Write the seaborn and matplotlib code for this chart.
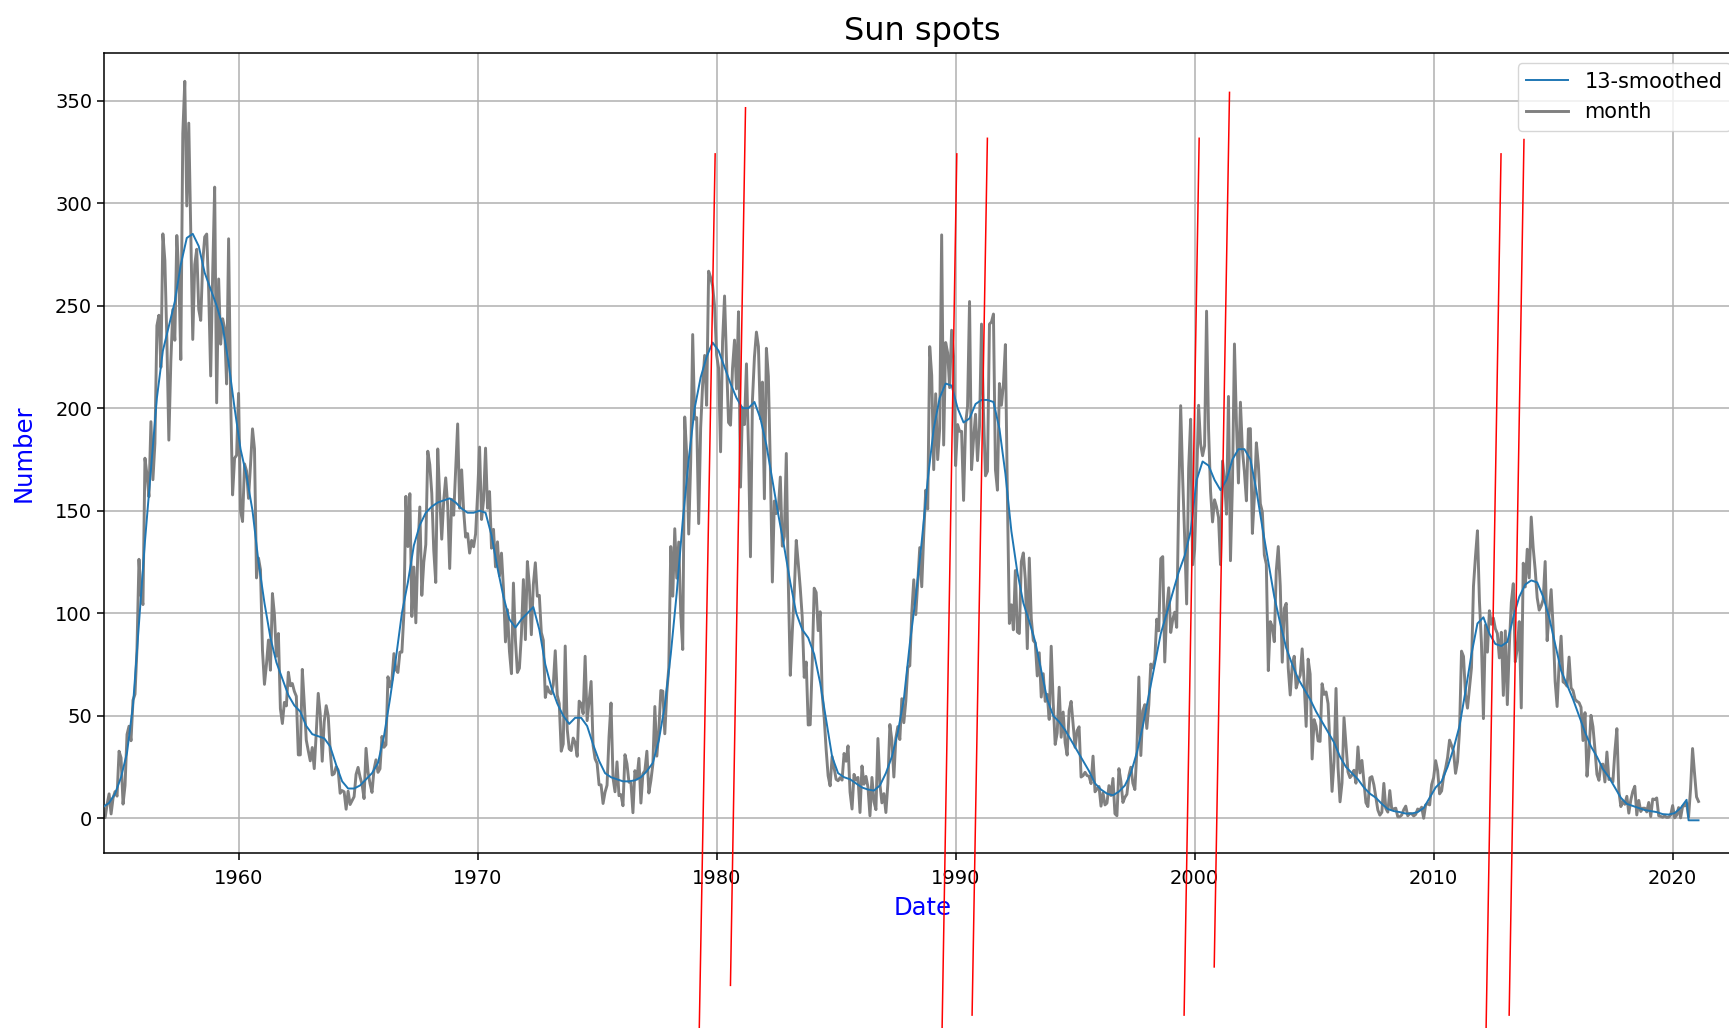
import numpy as np
import pandas as pd
import seaborn as sns
import matplotlib
matplotlib.use("Agg")
import matplotlib.pyplot as plt
from matplotlib.ticker import MultipleLocator

# monthly sunspot number, first month 1954-05, one value per month
month_start = "1954-05-01"
month_sn = [
    1.1, 0.3, 6.8, 11.9, 2.1, 9.9, 13.0, 10.8,
    32.7, 29.5, 6.9, 16.0, 40.9, 44.9, 37.8, 57.6, 60.5, 82.8, 126.3, 108.9,
    104.2, 175.6, 167.7, 156.8, 193.4, 165.1, 182.8, 240.2, 245.3, 219.9, 285.0, 272.0,
    233.6, 184.4, 222.9, 248.1, 233.1, 284.2, 265.1, 223.7, 333.9, 359.4, 298.6, 339.0,
    286.7, 233.5, 270.0, 277.5, 248.2, 242.8, 271.0, 283.5, 284.9, 257.0, 215.7, 265.6,
    307.8, 202.6, 263.0, 231.2, 243.6, 238.9, 211.8, 282.6, 205.6, 157.7, 175.6, 177.0,
    207.2, 150.1, 144.7, 172.8, 169.4, 156.0, 172.3, 189.9, 180.1, 117.2, 126.9, 121.2,
    82.0, 65.3, 75.0, 86.9, 72.2, 109.6, 99.4, 79.0, 90.1, 53.4, 46.2, 56.5,
    54.8, 71.2, 64.6, 65.7, 61.9, 59.5, 30.9, 30.9, 72.6, 55.9, 38.1, 32.9,
    28.0, 34.5, 24.2, 41.5, 60.9, 50.8, 27.8, 47.0, 54.9, 50.0, 33.1, 21.1,
    21.7, 25.1, 23.4, 12.2, 13.5, 12.9, 4.4, 13.2, 6.7, 8.6, 10.5, 21.4,
    24.8, 20.1, 16.6, 9.6, 34.1, 22.5, 16.9, 12.6, 23.8, 28.5, 22.4, 24.1,
    39.9, 34.6, 35.8, 69.0, 64.1, 67.5, 80.3, 72.5, 71.1, 81.0, 81.0, 99.7,
    157.0, 132.5, 158.3, 98.4, 122.5, 95.3, 129.6, 151.8, 108.7, 124.9, 133.5, 179.0,
    172.5, 158.5, 130.6, 115.0, 180.1, 156.2, 136.1, 154.8, 166.0, 152.5, 121.8, 155.5,
    147.8, 170.6, 192.3, 151.2, 169.9, 150.1, 137.1, 138.8, 129.3, 135.5, 132.4, 138.6,
    157.9, 181.0, 145.7, 155.1, 180.5, 151.2, 159.3, 131.7, 140.9, 122.6, 134.8, 118.2,
    129.3, 111.9, 86.0, 101.7, 81.4, 70.5, 114.7, 86.9, 71.1, 73.2, 89.5, 116.4,
    87.1, 125.2, 113.4, 89.5, 114.0, 124.6, 108.3, 108.7, 90.6, 86.8, 58.9, 64.1,
    61.5, 60.7, 65.1, 81.7, 60.0, 55.9, 32.7, 36.2, 84.0, 43.5, 33.8, 33.0,
    39.1, 36.8, 30.2, 57.1, 55.9, 51.0, 79.0, 47.6, 56.9, 66.7, 35.4, 29.0,
    26.8, 16.3, 16.3, 7.2, 12.7, 16.1, 39.9, 56.2, 19.7, 12.9, 27.5, 11.0,
    11.5, 6.1, 31.0, 26.6, 17.6, 17.3, 2.7, 23.2, 19.1, 29.2, 7.4, 21.7,
    23.2, 32.7, 12.3, 18.3, 26.3, 54.5, 30.3, 42.6, 62.3, 62.0, 41.2, 61.2,
    73.5, 132.5, 108.3, 141.2, 117.1, 134.7, 99.7, 82.3, 195.7, 177.1, 138.6, 173.7,
    235.9, 194.7, 195.4, 143.7, 190.3, 211.7, 225.7, 201.4, 266.8, 263.7, 259.6, 249.6,
    226.0, 219.5, 178.7, 232.4, 254.7, 222.7, 193.0, 191.7, 219.5, 233.2, 209.4, 247.0,
    161.5, 200.2, 192.0, 221.6, 180.7, 127.5, 203.8, 224.9, 237.1, 230.1, 194.8, 212.7,
    155.8, 229.2, 215.5, 170.9, 115.2, 154.7, 148.6, 150.7, 166.4, 132.7, 137.4, 177.9,
    115.2, 69.7, 90.8, 110.2, 135.5, 124.4, 112.3, 98.1, 68.7, 76.2, 45.5, 45.6,
    75.1, 112.2, 110.1, 91.5, 100.7, 60.8, 49.3, 33.6, 20.7, 15.8, 30.1, 24.6,
    19.0, 18.3, 19.8, 18.6, 31.6, 27.8, 35.3, 12.8, 4.5, 21.4, 18.6, 19.9,
    2.8, 25.5, 16.6, 20.4, 15.1, 1.2, 19.9, 8.1, 4.2, 38.9, 16.7, 7.5,
    12.0, 2.8, 16.9, 45.7, 38.0, 20.1, 39.1, 44.7, 38.4, 58.3, 46.6, 57.1,
    73.6, 74.4, 100.2, 116.3, 99.3, 115.1, 132.0, 112.9, 138.3, 160.0, 150.8, 230.0,
    216.0, 170.0, 207.0, 174.9, 190.0, 284.5, 182.0, 232.0, 227.0, 210.0, 238.0, 225.0,
    172.0, 192.0, 188.7, 188.7, 155.0, 192.0, 200.9, 252.0, 170.0, 185.0, 197.0, 174.4,
    191.0, 241.0, 198.0, 167.0, 169.2, 241.0, 242.0, 245.9, 170.0, 160.0, 212.0, 201.4,
    211.5, 231.0, 157.0, 95.0, 104.1, 91.9, 120.8, 90.9, 90.1, 125.1, 129.4, 116.5,
    82.7, 126.9, 97.3, 86.7, 85.5, 69.4, 80.7, 59.1, 70.5, 57.0, 60.4, 48.2,
    83.9, 56.4, 36.0, 41.6, 63.9, 39.5, 51.8, 36.8, 30.8, 52.5, 57.0, 45.9,
    34.6, 42.7, 44.6, 20.1, 20.8, 22.4, 20.8, 20.5, 16.9, 30.3, 12.9, 14.3,
    15.5, 5.9, 12.4, 6.5, 7.4, 15.9, 11.1, 19.4, 2.2, 1.2, 24.2, 18.0,
    7.7, 10.2, 11.7, 20.8, 24.9, 17.1, 14.0, 32.8, 68.9, 30.6, 52.4, 55.4,
    43.8, 55.3, 75.2, 73.3, 77.3, 97.1, 91.4, 126.6, 127.6, 76.2, 101.6, 112.4,
    90.6, 96.9, 100.5, 93.1, 155.5, 201.2, 165.8, 136.9, 104.5, 170.5, 194.6, 123.6,
    131.0, 164.2, 201.4, 182.5, 176.8, 181.6, 247.3, 189.7, 159.5, 144.5, 155.3, 151.8,
    146.7, 123.7, 174.2, 165.3, 148.3, 205.7, 125.6, 163.3, 231.3, 192.6, 163.5, 202.9,
    179.5, 168.9, 154.8, 189.9, 190.0, 138.9, 156.7, 183.1, 172.4, 153.4, 149.4, 128.4,
    123.9, 72.0, 95.9, 93.5, 86.1, 120.7, 132.5, 113.3, 76.1, 102.3, 104.8, 73.3,
    60.1, 74.3, 79.0, 63.5, 67.1, 69.8, 82.6, 66.1, 44.8, 77.6, 70.3, 28.9,
    48.1, 44.9, 37.7, 37.5, 65.6, 60.4, 61.6, 55.9, 34.0, 13.1, 27.7, 63.3,
    24.9, 8.0, 17.2, 49.1, 36.2, 22.6, 19.8, 21.0, 23.4, 17.1, 34.8, 22.1,
    28.2, 18.0, 7.6, 5.7, 19.7, 20.3, 16.3, 10.1, 4.0, 1.5, 2.9, 17.0,
    4.8, 3.0, 13.5, 4.2, 4.6, 4.9, 0.7, 0.7, 1.6, 4.2, 5.9, 1.2,
    2.3, 2.2, 1.1, 1.9, 4.5, 4.0, 5.4, 0.0, 6.5, 7.1, 6.5, 16.4,
    19.8, 28.1, 23.3, 11.9, 13.3, 20.4, 24.3, 29.6, 38.1, 35.5, 32.6, 21.9,
    27.6, 42.6, 81.5, 78.9, 60.3, 53.7, 63.5, 73.4, 113.1, 127.6, 140.2, 105.9,
    85.5, 48.6, 94.2, 81.0, 101.2, 94.6, 97.6, 92.4, 90.1, 78.2, 90.7, 59.9,
    91.4, 55.4, 84.1, 105.2, 114.4, 76.3, 82.8, 95.9, 53.8, 124.4, 112.8, 131.2,
    117.2, 146.9, 131.8, 121.0, 107.5, 101.5, 103.5, 106.6, 125.2, 86.6, 100.2, 111.5,
    93.0, 66.7, 54.5, 75.3, 88.8, 66.5, 65.8, 64.4, 78.6, 63.6, 62.2, 58.0,
    57.0, 56.4, 54.1, 37.9, 51.5, 20.5, 32.4, 50.2, 44.6, 33.4, 21.4, 18.5,
    26.1, 26.4, 17.7, 32.3, 18.9, 19.2, 17.8, 32.6, 43.7, 13.2, 5.7, 8.2,
    6.8, 10.7, 2.5, 8.9, 13.1, 15.6, 1.6, 8.7, 3.3, 4.9, 4.9, 3.1,
    7.7, 0.8, 9.4, 9.1, 9.9, 1.2, 0.9, 0.5, 1.1, 0.4, 0.5, 1.5,
    6.2, 0.2, 1.5, 5.2, 0.2, 5.8, 6.1, 7.5, 0.6, 14.4, 34.0, 21.8,
    10.4, 8.2,
]

# 13-month smoothed number, read every 3 months from 1954-05 to 2020-08
smooth_start = "1954-05-01"
smooth_sn = [
    5.5, 7.5, 12,
    20, 32, 55, 95,   135, 170, 205, 228,   240, 252, 270, 283,   285, 279, 266, 258,
    250, 240, 222, 200,   180, 167, 150, 125,   105, 88, 76, 68,   60, 55, 52, 45,
    41, 40, 39, 35,   26, 18, 14.5, 14.5,   16, 19, 22, 27,   40, 58, 78, 100,
    115, 133, 143, 149,   152, 154, 155, 156,   154, 151, 149, 149,   150, 149, 138, 122,
    108, 97, 93, 97,   100, 103, 92, 75,   64, 56, 50, 46,   49, 49, 45, 36,
    28, 22, 20, 19,   18, 18, 18.5, 20,   23, 27, 38, 55,   80, 110, 145, 175,
    200, 215, 225, 232,   228, 220, 212, 205,   200, 200, 203, 195,   182, 165, 148, 132,
    115, 100, 92, 88,   80, 66, 48, 30,   22, 20, 19, 17,   15, 14, 13.5, 16,
    22, 30, 42, 58,   85, 108, 135, 165,   190, 205, 212, 211,   200, 193, 195, 202,
    204, 204, 203, 190,   168, 140, 120, 105,   96, 86, 72, 58,   50, 47, 43, 38,
    33, 28, 23, 17,   14, 12, 11.2, 13,   16, 22, 32, 45,   60, 75, 90, 100,
    110, 120, 128, 140,   165, 174, 172, 165,   160, 165, 175, 180,   180, 175, 160, 142,
    125, 108, 95, 83,   75, 68, 63, 58,   52, 47, 42, 37,   30, 25, 22, 19,
    15, 12, 10, 7,   4.5, 3.5, 3, 2.3,   2.3, 3, 5, 10,   15, 18, 25, 34,
    45, 62, 80, 95,   98, 90, 85, 84,   86, 98, 108, 114,   116, 115, 108, 98,
    85, 72, 65, 58,   50, 42, 35, 30,   24, 20, 15, 10,   7, 6, 5, 4,
    3.5, 3, 2, 1.8,   2.5, 5, 9,
]
# last six smoothed months (2020-09 .. 2021-02) are stored as -1 in the source
tail_start = "2020-09-01"
smooth_tail = [-1, -1, -1, -1, -1, -1]

# hand-drawn red marks: (year, value) at top and bottom end
red_top_x = [1979.94, 1981.21, 1990.05, 1991.33, 2000.19, 2001.46, 2012.82, 2013.78]
red_top_y = [324, 346.5, 324, 331.6, 331.6, 354, 324, 331]
red_bot_x = [1979.27, 1980.58, 1989.43, 1990.69, 1999.56, 2000.82, 2012.19, 2013.16]
red_bot_y = [-106, -81.5, -106, -96, -96, -72.5, -106, -96]


def frac_year(dates):
    return dates.year + (dates.month - 1) / 12


month_x = frac_year(pd.date_range(month_start, periods=len(month_sn), freq="MS"))
smooth_x = np.concatenate([
    frac_year(pd.date_range(smooth_start, periods=len(smooth_sn), freq="3MS")),
    frac_year(pd.date_range(tail_start, periods=len(smooth_tail), freq="MS")),
])
smooth_y = np.concatenate([smooth_sn, smooth_tail])

fig = plt.figure(figsize=(17.29, 10.28), dpi=100)
ax = fig.add_axes([104 / 1729, 1 - 852.7 / 1028, (1741 - 104) / 1729, 799.7 / 1028])

sns.lineplot(x=smooth_x, y=smooth_y, ax=ax, color="#1f77b4", linewidth=1.4,
             label="13-smoothed", estimator=None, sort=False, zorder=3)
sns.lineplot(x=month_x, y=month_sn, ax=ax, color="gray", linewidth=2.1,
             label="month", estimator=None, sort=False, zorder=2)

for x0, y0, x1, y1 in zip(red_top_x, red_top_y, red_bot_x, red_bot_y):
    ax.plot([x0, x1], [y0, y1], color="red", linewidth=1.1, clip_on=False, zorder=5)

ax.set_xlim(1954.37, 2022.86)
ax.set_ylim(-16.8, 373.2)
ax.xaxis.set_major_locator(MultipleLocator(10))
ax.yaxis.set_major_locator(MultipleLocator(50))
ax.grid(True, color="#b0b0b0", linewidth=1.1)
ax.set_axisbelow(True)
ax.tick_params(labelsize=14, length=5, width=1.1)
ax.tick_params(axis="x", pad=6.5)
for sp in ax.spines.values():
    sp.set_linewidth(1.1)
    sp.set_color("black")

ax.set_title("Sun spots", fontsize=23, pad=9.5)
ax.set_xlabel("Date", color="blue", fontsize=17.5, labelpad=6)
ax.set_ylabel("Number", color="blue", fontsize=17.5, labelpad=14)
ax.legend(loc="upper right", fontsize=15)

fig.savefig("out.png", dpi=100)
